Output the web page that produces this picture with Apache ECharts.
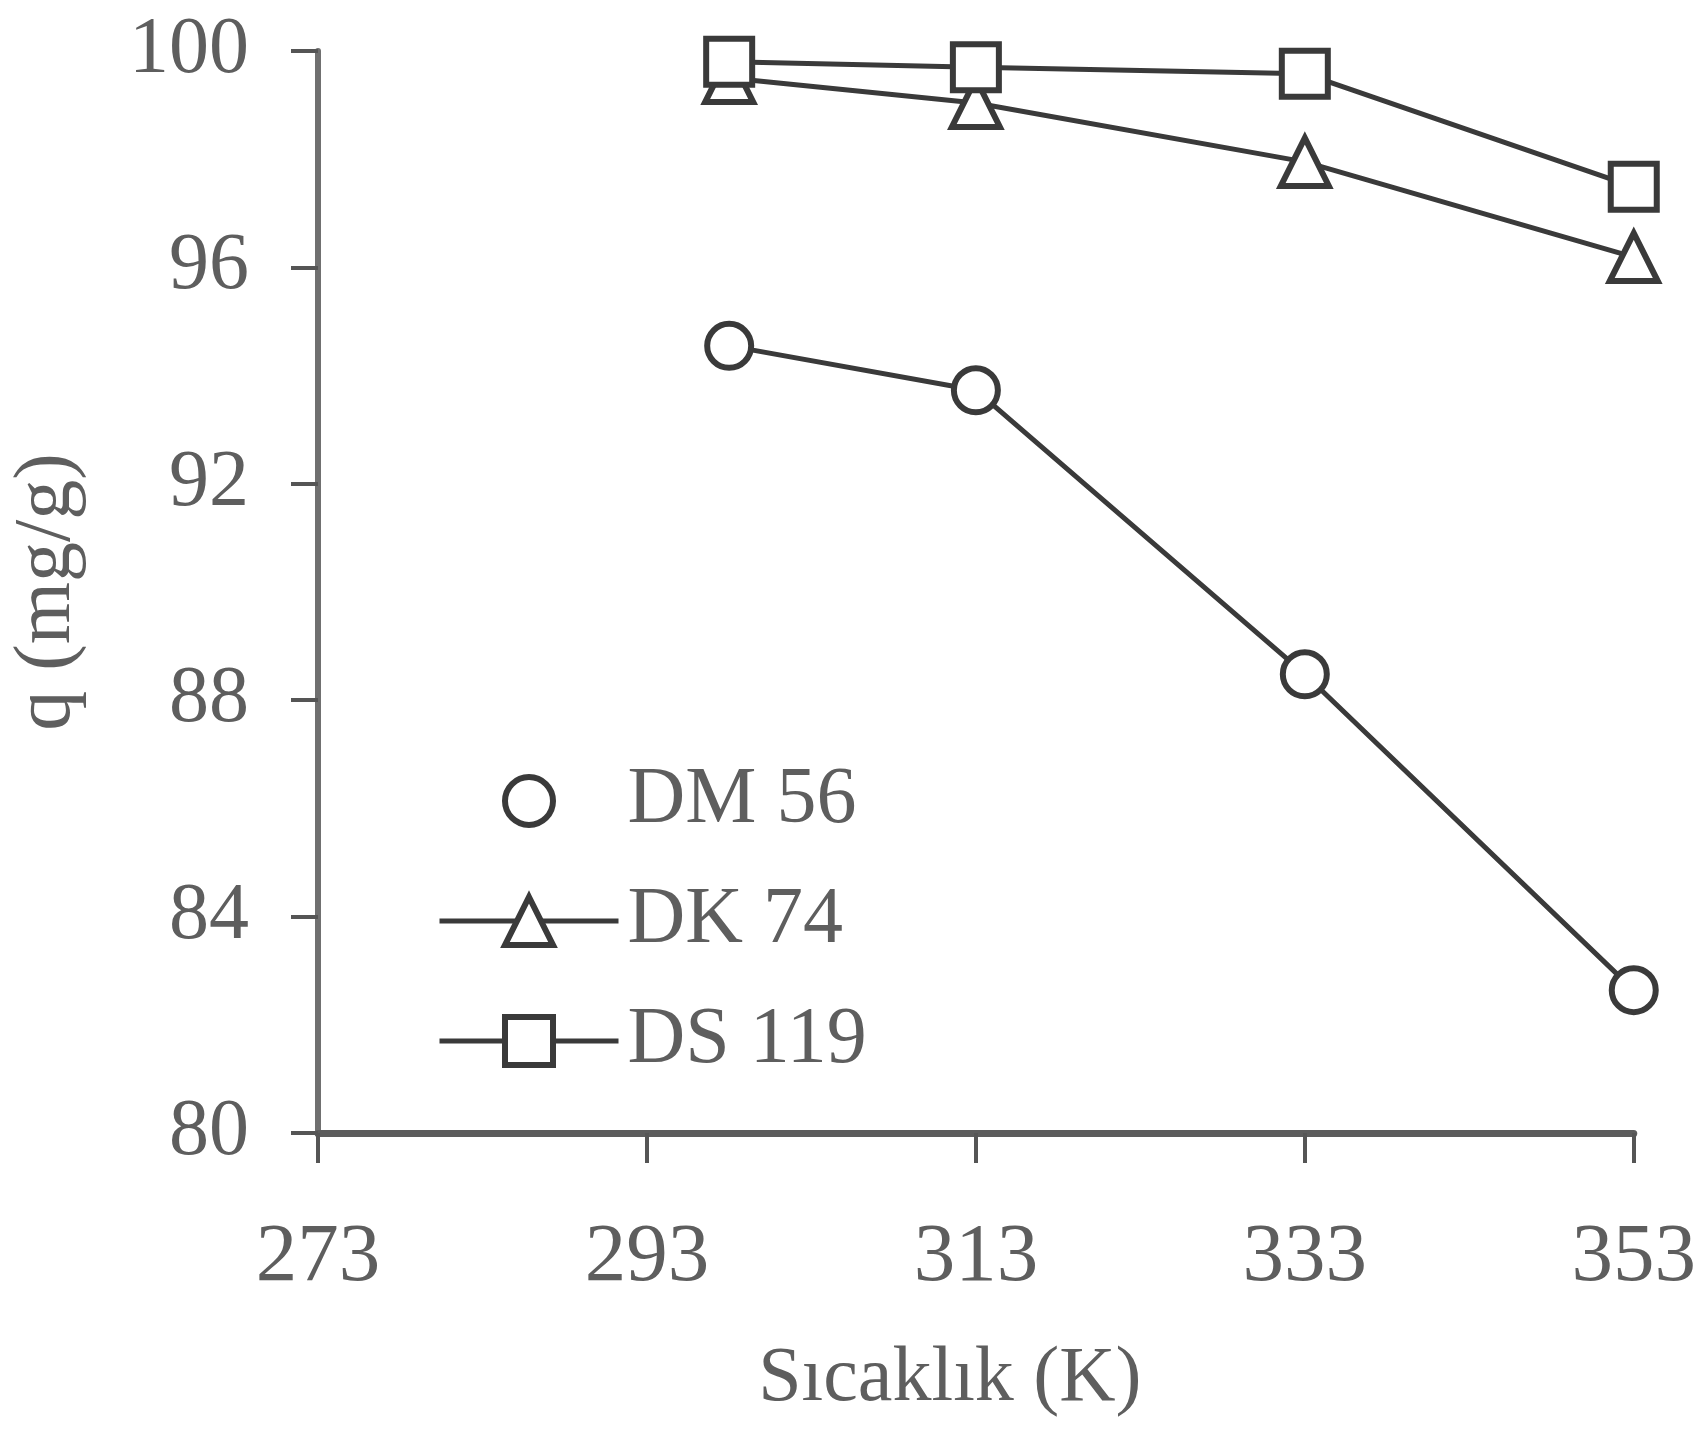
<!DOCTYPE html>
<html>
<head>
<meta charset="utf-8">
<script src="https://cdn.jsdelivr.net/npm/echarts@6/dist/echarts.min.js"></script>
<style>
html,body{margin:0;padding:0;background:#fff;}
#chart{width:1699px;height:1442px;}
</style>
</head>
<body>
<div id="chart"></div>
<script>
const temperatures = [298, 313, 333, 353];
const dm56 = [94.55, 93.73, 88.48, 82.64];
const dk74 = [99.50, 99.04, 97.95, 96.19];
const ds119 = [99.80, 99.70, 99.58, 97.49];
const seriesNames = ['DM 56', 'DK 74', 'DS 119'];
const xTicks = [273, 293, 313, 333, 353];
const yTicks = [80, 84, 88, 92, 96, 100];

const FONT = 'Liberation Serif';
const TXT = '#5e5e5e';
const INK = '#3a3a3a';

function pairs(vals) { return temperatures.map((t, i) => [t, vals[i]]); }

const chart = echarts.init(document.getElementById('chart'), null, {renderer: 'canvas'});
chart.setOption({
  backgroundColor: '#ffffff',
  animation: false,
  grid: {left: 314, right: 65, top: 51, bottom: 309, containLabel: false},
  xAxis: {
    type: 'value',
    min: xTicks[0], max: xTicks[xTicks.length - 1], interval: 20,
    name: 'Sıcaklık (K)', nameLocation: 'middle', nameGap: 208,
    nameTextStyle: {fontFamily: FONT, fontSize: 78, color: TXT, padding: [0, 52, 0, 0]},
    axisLine: {show: true, onZero: false, lineStyle: {color: '#5c5c5c', width: 7}},
    axisTick: {show: true, inside: false, length: 30, lineStyle: {color: '#555', width: 4}},
    axisLabel: {fontFamily: FONT, fontSize: 83, color: TXT, margin: 84},
    splitLine: {show: false}
  },
  yAxis: {
    type: 'value',
    min: yTicks[0], max: yTicks[yTicks.length - 1], interval: 4,
    name: 'q (mg/g)', nameLocation: 'middle', nameGap: 230, nameRotate: 90,
    nameTextStyle: {fontFamily: FONT, fontSize: 80, color: TXT},
    axisLine: {show: true, onZero: false, lineStyle: {color: '#707070', width: 6}},
    axisTick: {show: true, inside: false, length: 27, lineStyle: {color: '#555', width: 4}},
    axisLabel: {fontFamily: FONT, fontSize: 80, color: TXT, margin: 69},
    splitLine: {show: false}
  },
  legend: {
    orient: 'vertical', left: 432, top: 756,
    itemWidth: 179, itemHeight: 60, itemGap: 40,
    lineStyle: {color: INK, width: 5},
    itemStyle: {color: '#ffffff', borderColor: INK, borderWidth: 6},
    textStyle: {fontFamily: FONT, fontSize: 80, color: TXT, lineHeight: 60, padding: [0, 0, 0, 4]},
    data: [
      {name: seriesNames[0], lineStyle: {color: INK, width: 5, opacity: 0}},
      {name: seriesNames[1]},
      {name: seriesNames[2]}
    ]
  },
  series: [
    {
      name: seriesNames[0], type: 'line', data: pairs(dm56),
      symbol: 'circle', symbolSize: 44,
      lineStyle: {color: INK, width: 5},
      itemStyle: {color: '#ffffff', borderColor: INK, borderWidth: 6}
    },
    {
      name: seriesNames[1], type: 'line', data: pairs(dk74),
      symbol: 'triangle', symbolSize: 48,
      lineStyle: {color: INK, width: 5},
      itemStyle: {color: '#ffffff', borderColor: INK, borderWidth: 6}
    },
    {
      name: seriesNames[2], type: 'line', data: pairs(ds119),
      symbol: 'rect', symbolSize: 46,
      lineStyle: {color: INK, width: 5},
      itemStyle: {color: '#ffffff', borderColor: INK, borderWidth: 6}
    }
  ]
});
</script>
</body>
</html>
